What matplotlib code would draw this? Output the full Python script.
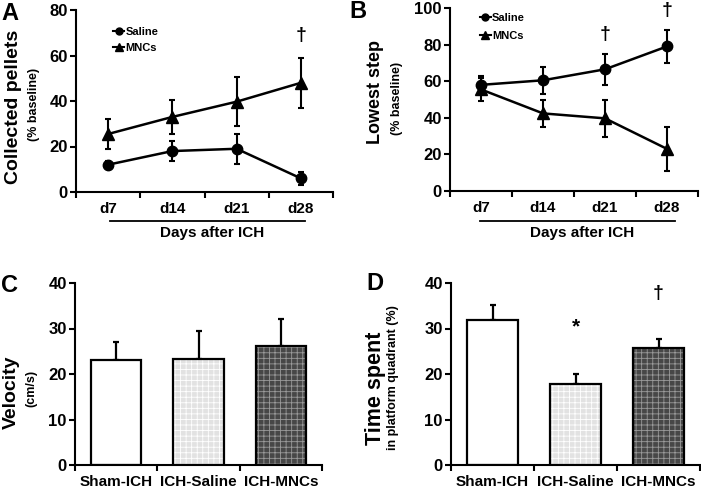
import matplotlib
matplotlib.use("Agg")
import matplotlib.pyplot as plt
from matplotlib.lines import Line2D
import numpy as np

plt.rcParams['font.family'] = ['Liberation Sans', 'DejaVu Sans']
plt.rcParams['font.weight'] = 'bold'
plt.rcParams['hatch.linewidth'] = 0.6

# ---- data ----
days = ['d7', 'd14', 'd21', 'd28']
pellets_saline = [12, 18, 19, 6]
pellets_saline_err = [1.5, 4.4, 6.6, 2.9]
pellets_mncs = [25.5, 33, 39.7, 48]
pellets_mncs_err = [6.8, 7.3, 10.8, 11]

step_saline = [58, 60.5, 66.5, 79]
step_saline_err = [5, 7.5, 8.5, 9]
step_mncs = [55.5, 42.4, 39.7, 23]
step_mncs_err = [6.5, 7.3, 10, 12]

groups = ['Sham-ICH', 'ICH-Saline', 'ICH-MNCs']
velocity = [23.1, 23.3, 26.1]
velocity_err = [4.0, 6.2, 5.9]
time_spent = [31.8, 17.7, 25.7]
time_spent_err = [3.3, 2.4, 2.1]

W, H = 701, 488
fig = plt.figure(figsize=(7.01, 4.88), dpi=100)

def axes_px(left, right, top, bottom):
    return fig.add_axes([left / W, (H - bottom) / H, (right - left) / W, (bottom - top) / H])

def style(ax, n, ymax, ystep):
    for s in ['top', 'right']:
        ax.spines[s].set_visible(False)
    for s in ['left', 'bottom']:
        ax.spines[s].set_linewidth(1.5)
    ax.set_xlim(-0.5, n - 0.5)
    ax.set_ylim(0, ymax)
    ax.set_yticks(np.arange(0, ymax + 1, ystep))
    ax.set_xticks(np.arange(-0.5, n, 1.0))
    ax.set_xticklabels([])
    ax.tick_params(axis='both', which='major', direction='out', length=4, width=1.5,
                   labelsize=12)
    ax.tick_params(axis='y', pad=2)
    for lab in ax.get_yticklabels():
        lab.set_fontweight('bold')

def fx(px):
    return px / W

def fy(py):
    return (H - py) / H

legend_handles = [
    Line2D([], [], color='black', lw=1.5, marker='o', ms=5),
    Line2D([], [], color='black', lw=1.5, marker='^', ms=6),
]
legend_labels = ['Saline', 'MNCs']

def line_panel(ax, s, se, m, me):
    x = np.arange(4)
    ax.errorbar(x, s, yerr=se, color='black', lw=1.8, marker='o', ms=7.5,
                capsize=2, elinewidth=1.5, capthick=1.5)
    ax.errorbar(x, m, yerr=me, color='black', lw=1.8, marker='^', ms=8.5,
                capsize=2, elinewidth=1.5, capthick=1.5)
    ax.set_xticks(x, minor=True)
    ax.set_xticklabels(days, minor=True, fontweight='bold')
    ax.tick_params(axis='x', which='minor', length=0, labelsize=11, pad=7)

# ---- Panel A ----
axA = axes_px(76, 333, 10, 192)
style(axA, 4, 80, 20)
line_panel(axA, pellets_saline, pellets_saline_err, pellets_mncs, pellets_mncs_err)
axA.text(3, 69, '†', ha='center', va='center', fontsize=14, fontweight='bold')
axA.legend(legend_handles, legend_labels, loc='upper left', bbox_to_anchor=(0.145, 0.905),
           frameon=False, prop={'size': 8, 'weight': 'bold'},
           handlelength=1.0, handletextpad=0.1, labelspacing=0.5,
           borderpad=0, borderaxespad=0)

# ---- Panel B ----
axB = axes_px(450, 698, 8, 191)
style(axB, 4, 100, 20)
line_panel(axB, step_saline, step_saline_err, step_mncs, step_mncs_err)
axB.text(2, 85.5, '†', ha='center', va='center', fontsize=14, fontweight='bold')
axB.text(3, 98.5, '†', ha='center', va='center', fontsize=14, fontweight='bold')
axB.legend(legend_handles, legend_labels, loc='upper left', bbox_to_anchor=(0.12, 0.973),
           frameon=False, prop={'size': 8, 'weight': 'bold'},
           handlelength=1.0, handletextpad=0.1, labelspacing=0.75,
           borderpad=0, borderaxespad=0)

# underline + "Days after ICH"
for (x0, x1, xc) in [(110, 305, 212), (480, 675, 582)]:
    fig.add_artist(Line2D([fx(x0), fx(x1)], [fy(221), fy(221)], color='black', lw=1.3))
    fig.text(fx(xc), fy(233), 'Days after ICH', ha='center', va='center', fontsize=11,
             fontweight='bold')

# ---- bar panels ----
face = ['white', '#e2e2e2', '#474747']
hatchc = ['white', 'white', '#9a9a9a']
hatches = [None, '+++', '+++']

def bars(ax, vals, errs):
    xb = np.arange(3)
    for i in range(3):
        ax.bar(xb[i], vals[i], width=0.61, color=face[i], edgecolor=hatchc[i],
               hatch=hatches[i], lw=0, zorder=2)
        ax.bar(xb[i], vals[i], width=0.61, fill=False, edgecolor='black', lw=1.6, zorder=3)
    ax.errorbar(xb, vals, yerr=[[0, 0, 0], errs], fmt='none', ecolor='black',
                elinewidth=1.6, capsize=2.5, capthick=1.6, zorder=1)
    ax.set_xticks(xb, minor=True)
    ax.set_xticklabels(groups, minor=True, fontweight='bold')
    ax.tick_params(axis='x', which='minor', length=0, labelsize=11, pad=7)

axC = axes_px(75, 322, 283, 465)
style(axC, 3, 40, 10)
bars(axC, velocity, velocity_err)

axD = axes_px(451, 700, 283, 465)
style(axD, 3, 40, 10)
bars(axD, time_spent, time_spent_err)
axD.text(1, 30.3, '*', ha='center', va='center', fontsize=15, fontweight='bold')
axD.text(2, 37.8, '†', ha='center', va='center', fontsize=14, fontweight='bold')

# ---- y labels ----
def vtext(px, py, s, size):
    fig.text(fx(px), fy(py), s, rotation=90, ha='center', va='center', fontsize=size,
             fontweight='bold')

vtext(14, 107, 'Collected pellets', 14)
vtext(34, 104, '(% baseline)', 9)
vtext(375, 92, 'Lowest step', 13)
vtext(397, 98, '(% baseline)', 9)
vtext(11, 392, 'Velocity', 14)
vtext(31, 388, '(cm/s)', 9)
vtext(375, 388, 'Time spent', 15.5)
vtext(393, 378, 'in platform quadrant (%)', 9)

# ---- panel letters ----
for (lx, ly, t) in [(1, 13, 'A'), (349, 11, 'B'), (1, 286, 'C'), (366, 283, 'D')]:
    fig.text(fx(lx), fy(ly), t, ha='left', va='center', fontsize=17, fontweight='bold')

fig.savefig('out.png', dpi=100)
